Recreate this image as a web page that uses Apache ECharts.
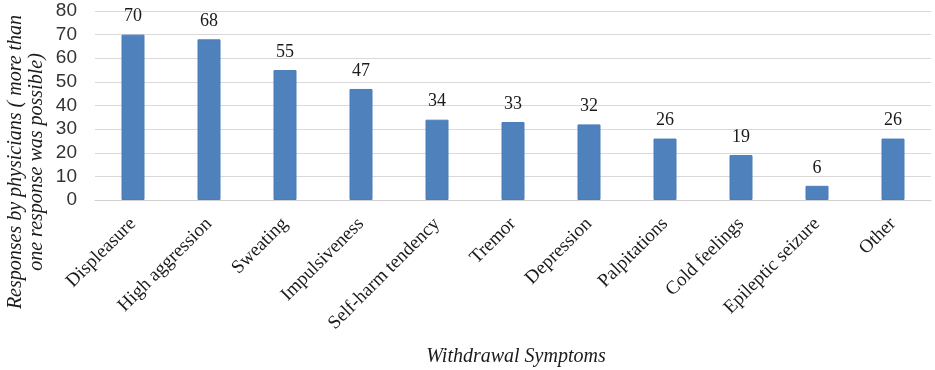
<!DOCTYPE html>
<html>
<head>
<meta charset="utf-8">
<script src="https://cdn.jsdelivr.net/npm/echarts@6/dist/echarts.min.js"></script>
<style>
  html, body { margin: 0; padding: 0; background: #fff; }
  #chart { width: 935px; height: 370px; }
</style>
</head>
<body>
<div id="chart"></div>
<script>
// symptoms reported by physicians
const categories = [
  "Displeasure", "High aggression", "Sweating", "Impulsiveness",
  "Self-harm tendency", "Tremor", "Depression", "Palpitations",
  "Cold feelings", "Epileptic seizure", "Other"
];
const responses = [70, 68, 55, 47, 34, 33, 32, 26, 19, 6, 26];

const serif = "'Liberation Serif', 'DejaVu Serif', serif";
const sans = "'Liberation Sans', 'Noto Sans', sans-serif";

const myChart = echarts.init(document.getElementById("chart"));

const option = {
  animation: false,
  grid: { left: 95, right: 4, top: 11, bottom: 170 },
  xAxis: {
    type: "category",
    data: categories,
    axisTick: { show: false },
    axisLine: { lineStyle: { color: "#d0d0d0", width: 1 } },
    axisLabel: {
      interval: 0,
      rotate: 45,
      margin: 21,
      color: "#1a1a1a",
      fontFamily: serif,
      fontSize: 19,
    },
  },
  yAxis: {
    type: "value",
    min: 0,
    max: 80,
    interval: 10,
    axisLine: { show: false },
    axisTick: { show: false },
    axisLabel: {
      margin: 18,
      color: "#333333",
      fontFamily: sans,
      fontSize: 19,
    },
    splitLine: { lineStyle: { color: "#d9d9d9", width: 1 } },
  },
  series: [
    {
      type: "bar",
      data: responses,
      barWidth: 23,
      itemStyle: { color: "#4f81bd", borderColor: "#4a7dba", borderWidth: 1 },
      label: {
        show: true,
        position: "top",
        distance: 9,
        color: "#1a1a1a",
        fontFamily: serif,
        fontSize: 18,
      },
    },
  ],
  graphic: [
    {
      type: "text",
      x: 26,
      y: 162,
      rotation: Math.PI / 2,
      style: {
        text: "Responses by physicians ( more than\none response was possible)",
        font: "italic 20px " + serif,
        fill: "#1a1a1a",
        align: "center",
        verticalAlign: "middle",
        lineHeight: 21,
      },
    },
    {
      type: "text",
      x: 516,
      y: 357,
      style: {
        text: "Withdrawal Symptoms",
        font: "italic 20px " + serif,
        fill: "#1a1a1a",
        align: "center",
        verticalAlign: "middle",
      },
    },
  ],
};

option && myChart.setOption(option);
</script>
</body>
</html>
